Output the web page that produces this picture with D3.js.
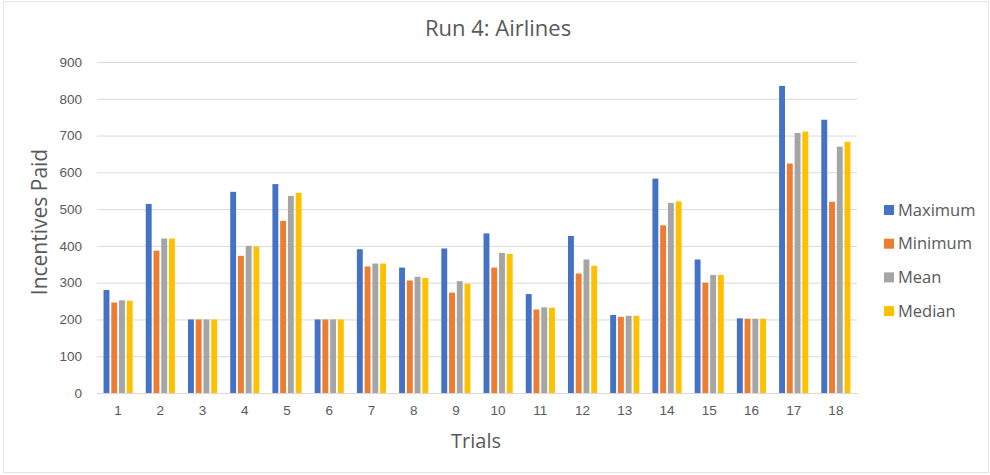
<!DOCTYPE html>
<html>
<head>
<meta charset="utf-8">
<script src="https://cdn.jsdelivr.net/npm/d3@7/dist/d3.min.js"></script>
<style>
  html, body { margin: 0; padding: 0; background: #fff; }
  svg { display: block; font-family: "Open Sans", "Noto Sans", sans-serif; }
</style>
</head>
<body>
<svg id="chart" width="990" height="475"></svg>
<script>
// Trials and incentive statistics per trial
const trials = ["1","2","3","4","5","6","7","8","9","10","11","12","13","14","15","16","17","18"];
const seriesNames = ["Maximum", "Minimum", "Mean", "Median"];
const maximum = [280, 514, 200, 547, 568, 200, 391, 341, 393, 434, 269, 427, 212, 583, 363, 203, 835, 743];
const minimum = [246, 387, 200, 373, 468, 200, 344, 306, 273, 341, 227, 325, 207, 456, 300, 202, 624, 520];
const mean    = [252, 420, 200, 400, 536, 200, 352, 316, 304, 381, 233, 363, 210, 517, 321, 202, 707, 670];
const median  = [251, 420, 200, 398, 544, 200, 352, 313, 297, 378, 232, 346, 210, 521, 321, 202, 711, 683];
const yTicks = [0, 100, 200, 300, 400, 500, 600, 700, 800, 900];
const colors = ["#4472c4", "#ed7d31", "#a5a5a5", "#ffc000"];

const seriesValues = [maximum, minimum, mean, median];
const rows = trials.map((t, i) => ({
  trial: t,
  values: seriesNames.map((name, s) => ({ name, value: seriesValues[s][i] }))
}));

const svg = d3.select("#chart");
const textColor = "#595959";

// chart area border
svg.append("rect")
  .attr("x", 3.5).attr("y", 1.5).attr("width", 985).attr("height", 471)
  .attr("fill", "none").attr("stroke", "#e3e3e3");

const plot = { left: 97, right: 857, top: 62, bottom: 393 };

const x = d3.scaleBand().domain(trials).range([plot.left, plot.right]).paddingInner(0.31).paddingOuter(0.155);
const xInner = d3.scaleBand().domain(seriesNames).range([0, x.bandwidth()]).paddingInner(0.24);
const y = d3.scaleLinear().domain([0, 900]).range([plot.bottom, plot.top]);

// horizontal gridlines and y tick labels
const yAxis = d3.axisLeft(y).tickValues(yTicks).tickSize(-(plot.right - plot.left)).tickPadding(15);
const gy = svg.append("g").attr("transform", `translate(${plot.left},0)`).call(yAxis);
gy.select(".domain").remove();
gy.selectAll(".tick line").attr("stroke", "#d9d9d9").attr("stroke-width", 1);
gy.selectAll(".tick text").attr("fill", textColor).attr("font-size", 13.5);

// bars
const groups = svg.append("g").selectAll("g").data(rows).join("g")
  .attr("transform", d => `translate(${x(d.trial)},0)`);
groups.selectAll("rect").data(d => d.values).join("rect")
  .attr("x", d => xInner(d.name))
  .attr("y", d => y(d.value))
  .attr("width", xInner.bandwidth())
  .attr("height", d => y(0) - y(d.value))
  .attr("fill", (d, i) => colors[i]);

// x axis baseline and labels
const xAxis = d3.axisBottom(x).tickSize(0).tickPadding(12);
const gx = svg.append("g").attr("transform", `translate(0,${plot.bottom})`).call(xAxis);
gx.select(".domain").attr("stroke", "#d9d9d9");
gx.selectAll(".tick text").attr("fill", textColor).attr("font-size", 13.5);

// title and axis titles
svg.append("text").attr("x", 498).attr("y", 36).attr("text-anchor", "middle")
  .attr("fill", textColor).attr("font-size", 22).text("Run 4: Airlines");
svg.append("text").attr("transform", "translate(47,222) rotate(-90)").attr("text-anchor", "middle")
  .attr("fill", textColor).attr("font-size", 21).text("Incentives Paid");
svg.append("text").attr("x", 476).attr("y", 448).attr("text-anchor", "middle")
  .attr("fill", textColor).attr("font-size", 20).text("Trials");

// legend
const legend = svg.append("g").selectAll("g").data(seriesNames).join("g")
  .attr("transform", (d, i) => `translate(884,${210 + i * 33.7})`);
legend.append("rect").attr("x", 0).attr("y", -5).attr("width", 10).attr("height", 10)
  .attr("fill", (d, i) => colors[i]);
legend.append("text").attr("x", 14).attr("y", 0).attr("dy", "0.35em")
  .attr("fill", textColor).attr("font-size", 16.5).text(d => d);
</script>
</body>
</html>
